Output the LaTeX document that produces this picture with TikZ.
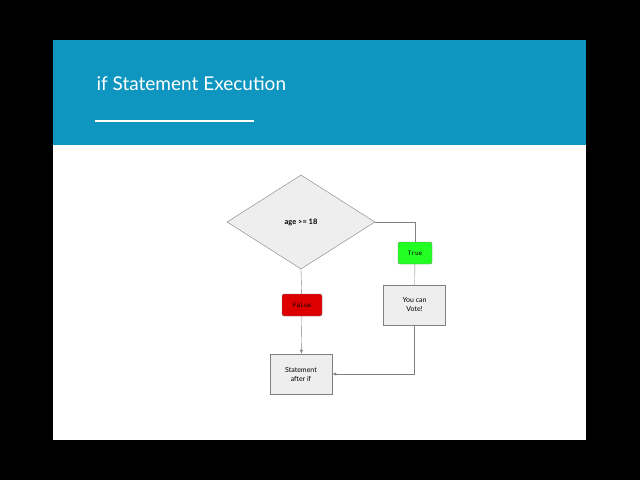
\documentclass[tikz,border=0pt]{standalone}
\usepackage{fontspec}
\setmainfont{Lato}
\setmonofont{DejaVu Sans Mono}
\usetikzlibrary{shapes.geometric,arrows.meta}
\definecolor{header}{HTML}{0E96C0}
\definecolor{boxfill}{HTML}{EEEEEE}
\definecolor{truegreen}{HTML}{22FF22}
\definecolor{falsered}{HTML}{DD0000}
\tikzset{
  box/.style={draw=gray, fill=boxfill, minimum width=62pt, minimum height=40pt, align=center, font=\fontsize{7}{9}\selectfont},
  tag/.style={draw=gray, rounded corners=2pt, minimum height=22pt, font=\ttfamily\fontsize{6}{7}\selectfont},
  flow/.style={draw=gray, -{Latex[length=4pt,width=3pt]}}
}
\begin{document}
\begin{tikzpicture}[x=1pt,y=-1pt]
\fill[black] (0,0) rectangle (640,480);
\fill[white] (53,40) rectangle (586,440);
\fill[header] (53,40) rectangle (586,145);
\node[anchor=west, text=white, font=\fontsize{19}{22}\selectfont] (title) at (93,84) {if Statement Execution};
\draw[white, line width=2.5pt] (95,121) -- (254,121);
\node[draw=gray, fill=boxfill, diamond, minimum width=148pt, minimum height=94pt, inner sep=0pt, font=\bfseries\fontsize{7.5}{9}\selectfont] (cond) at (301,222) {age >= 18};
\node[tag, fill=truegreen, minimum width=34pt] (true) at (415,253) {True};
\node[box] (vote) at (414.5,305) {You can\\Vote!};
\node[tag, fill=falsered, minimum width=40pt] (false) at (302,305) {False};
\node[box] (stmt) at (301,374) {Statement\\after if};
\draw[draw=gray] (cond.east) -| (true.north);
\draw[draw=gray] (true) -- (vote);
\draw[flow] (vote.south) |- (stmt.east);
\draw[draw=gray] (cond.south) -- (false);
\draw[flow] (false) -- (stmt);
\end{tikzpicture}
\end{document}
